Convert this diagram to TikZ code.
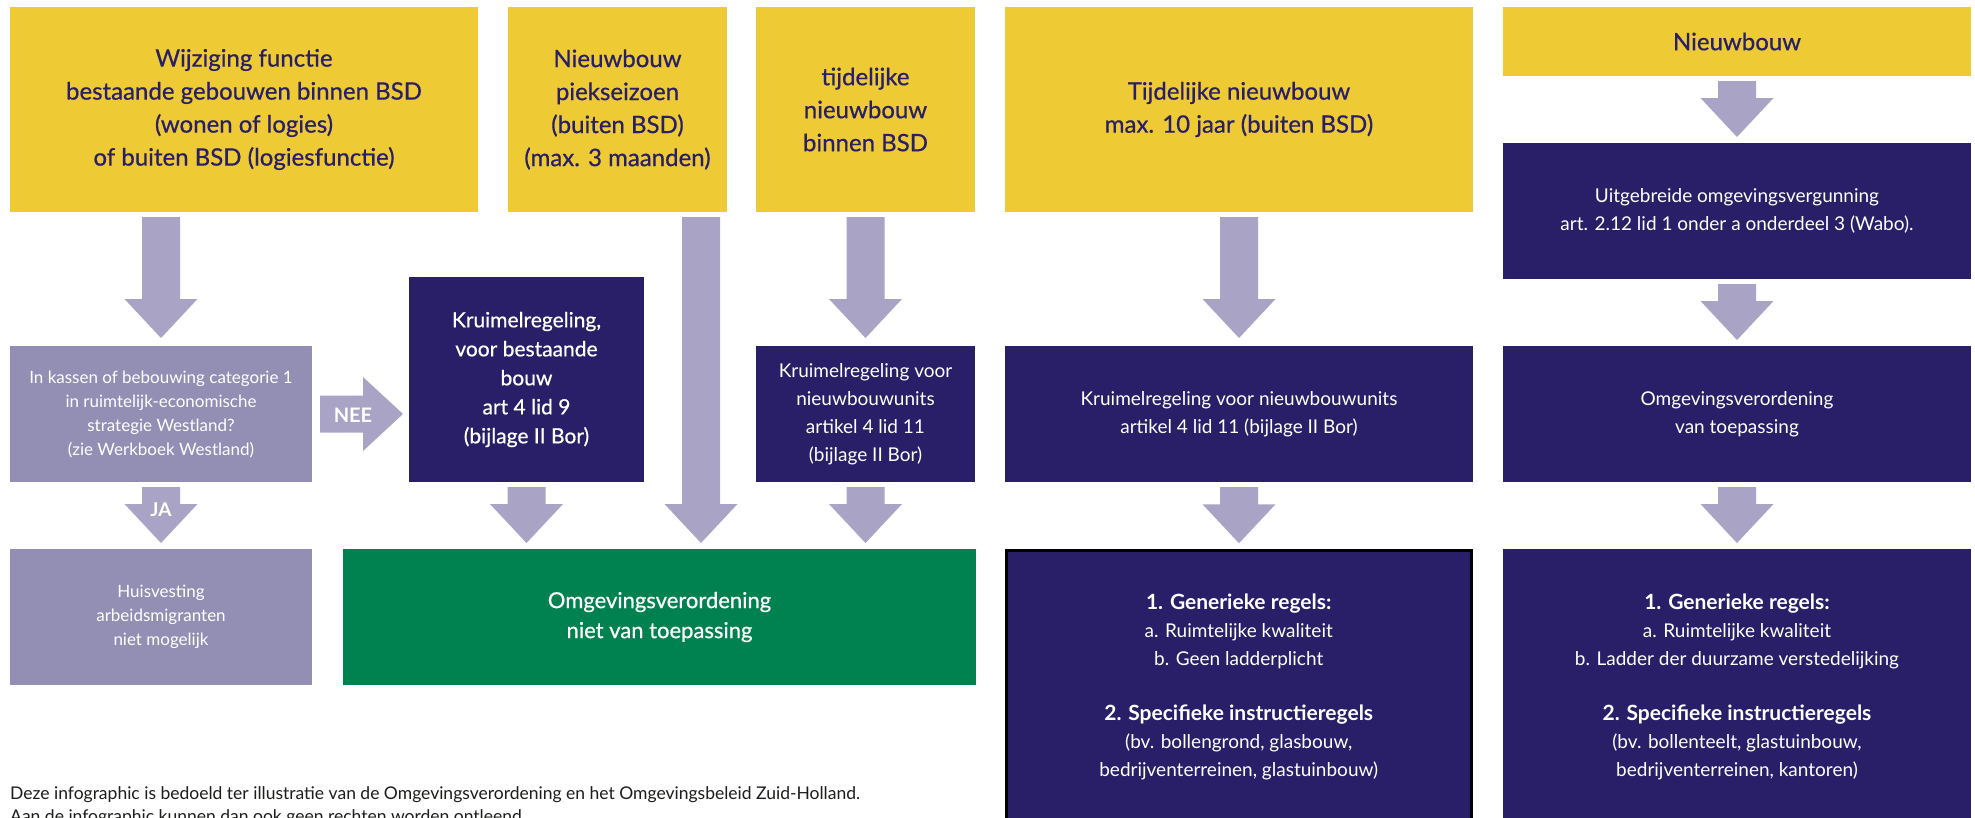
\documentclass[tikz,border=0pt]{standalone}
\usepackage{fontspec}
\setmainfont{Lato}
\newfontfamily\medfont{Lato}[FakeBold=0.6]
\usetikzlibrary{calc}

\definecolor{zhyellow}{HTML}{EECA34}
\definecolor{zhnavy}{HTML}{291F69}
\definecolor{zharrow}{HTML}{A9A4C5}
\definecolor{zhmauve}{HTML}{938EB4}
\definecolor{zhgreen}{HTML}{008250}
\definecolor{zhtext}{HTML}{1D1D1B}

\tikzset{
  box/.style={rectangle, inner sep=0pt, outer sep=0pt, align=center, anchor=north west},
  ybox/.style={box, fill=zhyellow, text=zhnavy, font=\medfont\fontsize{24}{33}\selectfont},
  nbox/.style={box, fill=zhnavy, text=white, font=\fontsize{19}{28}\selectfont},
  nhead/.style={box, fill=zhnavy, text=white, font=\medfont\fontsize{21}{29}\selectfont},
  mbox/.style={box, fill=zhmauve, text=white, font=\fontsize{17}{24}\selectfont},
  gbox/.style={box, fill=zhgreen, text=white, font=\medfont\fontsize{22}{30}\selectfont},
  arrowlabel/.style={text=white, font=\bfseries\fontsize{19}{22}\selectfont, inner sep=0pt},
}

% block arrow pointing down: #1 = top of shaft, #2 = tip
\newcommand\blockdown[2]{%
  \fill[zharrow] let \p1=(#1), \p2=(#2) in
    (\x1-19pt,\y1) -- (\x1+19pt,\y1) -- (\x1+19pt,\y2+39pt) -- (\x1+36.5pt,\y2+39pt)
    -- (\x1,\y2) -- (\x1-36.5pt,\y2+39pt) -- (\x1-19pt,\y2+39pt) -- cycle;}
% block arrow pointing right: #1 = start of shaft, #2 = tip
\newcommand\blockright[2]{%
  \fill[zharrow] let \p1=(#1), \p2=(#2) in
    (\x1,\y1+18.5pt) -- (\x2-40pt,\y1+18.5pt) -- (\x2-40pt,\y1+37pt) -- (\x2,\y1)
    -- (\x2-40pt,\y1-37pt) -- (\x2-40pt,\y1-18.5pt) -- (\x1,\y1-18.5pt) -- cycle;}

\begin{document}
\begin{tikzpicture}[x=1pt, y=-1pt]
\useasboundingbox (0,0) rectangle (1975,817);
\clip (0,0) rectangle (1975,817);
\fill[white] (0,0) rectangle (1975,817);

% top row of starting situations
\node[ybox, minimum width=468pt, minimum height=205pt] (b1) at (10,7)
  {Wijziging functie\\bestaande gebouwen binnen BSD\\(wonen of logies)\\of buiten BSD (logiesfunctie)};
\node[ybox, minimum width=219pt, minimum height=205pt] (b2) at (508,7)
  {Nieuwbouw\\piekseizoen\\(buiten BSD)\\(max. 3 maanden)};
\node[ybox, minimum width=219pt, minimum height=205pt] (b3) at (756,7)
  {tijdelijke\\nieuwbouw\\binnen BSD};
\node[ybox, minimum width=468pt, minimum height=205pt] (b4) at (1005,7)
  {Tijdelijke nieuwbouw\\max. 10 jaar (buiten BSD)};
\node[ybox, minimum width=468pt, minimum height=69pt] (b5) at (1503,7)
  {Nieuwbouw};

% right column
\node[nbox, minimum width=468pt, minimum height=136pt] (b6) at (1503,143)
  {Uitgebreide omgevingsvergunning\\art. 2.12 lid 1 onder a onderdeel 3 (Wabo).};
\node[nbox, minimum width=468pt, minimum height=136pt] (b7) at (1503,346)
  {Omgevingsverordening\\van toepassing};
\node[nbox, minimum width=468pt, minimum height=276pt] (b8) at (1503,549)
  {{\bfseries\fontsize{21}{28}\selectfont 1. Generieke regels:}\\
   a. Ruimtelijke kwaliteit\\
   b. Ladder der duurzame verstedelijking\\[27pt]
   {\bfseries\fontsize{21}{28}\selectfont 2. Specifieke instructieregels}\\
   (bv. bollenteelt, glastuinbouw,\\
   bedrijventerreinen, kantoren)};

% fourth column
\node[nbox, minimum width=468pt, minimum height=136pt] (b9) at (1005,346)
  {Kruimelregeling voor nieuwbouwunits\\artikel 4 lid 11 (bijlage II Bor)};
\node[nbox, minimum width=465pt, minimum height=273pt, draw=black, line width=2.5pt] (b10) at (1006.25,550.25)
  {{\bfseries\fontsize{21}{28}\selectfont 1. Generieke regels:}\\
   a. Ruimtelijke kwaliteit\\
   b. Geen ladderplicht\\[27pt]
   {\bfseries\fontsize{21}{28}\selectfont 2. Specifieke instructieregels}\\
   (bv. bollengrond, glasbouw,\\
   bedrijventerreinen, glastuinbouw)};

% left part
\node[mbox, minimum width=302pt, minimum height=136pt] (b11) at (10,346)
  {In kassen of bebouwing categorie 1\\in ruimtelijk-economische\\strategie Westland?\\(zie Werkboek Westland)};
\node[nhead, minimum width=235pt, minimum height=205pt] (b12) at (409,277)
  {Kruimelregeling,\\voor bestaande\\bouw\\art 4 lid 9\\(bijlage II Bor)};
\node[mbox, minimum width=302pt, minimum height=136pt] (b13) at (10,549)
  {Huisvesting\\arbeidsmigranten\\niet mogelijk};
\node[gbox, minimum width=633pt, minimum height=136pt] (b14) at (343,549)
  {Omgevingsverordening\\niet van toepassing};
\node[nbox, minimum width=219pt, minimum height=136pt] (b15) at (756,346)
  {Kruimelregeling voor\\nieuwbouwunits\\artikel 4 lid 11\\(bijlage II Bor)};

% connectors
\blockdown{$(b1.south -| b11.north)+(0,5)$}{$(b11.north)+(0,-8)$}
\blockdown{$(b11.south)+(0,5)$}{$(b13.north)+(0,-6)$}
\node[arrowlabel] (ja) at ($(b11.south)+(0,28)$) {JA};
\blockright{$(b11.east)+(8,0)$}{$(b12.west |- b11.east)+(-6,0)$}
\node[arrowlabel, font=\bfseries\fontsize{20}{22}\selectfont] (nee) at ($(b11.east)+(41,1.5)$) {NEE};
\blockdown{$(b12.south)+(0,5)$}{$(b12.south |- b14.north)+(0,-6)$}
\coordinate (longtop) at ($(b2.south east)+(-26,5)$);
\coordinate (longtip) at ($(longtop |- b14.north)+(0,-6)$);
\blockdown{longtop}{longtip}
\blockdown{$(b3.south)+(0,5)$}{$(b15.north)+(0,-8)$}
\blockdown{$(b15.south)+(0,5)$}{$(b15.south |- b14.north)+(0,-6)$}
\blockdown{$(b4.south)+(0,5)$}{$(b9.north)+(0,-8)$}
\blockdown{$(b9.south)+(0,5)$}{$(b9.south |- b10.north)+(0,-7)$}
\blockdown{$(b5.south)+(0,5)$}{$(b6.north)+(0,-6)$}
\blockdown{$(b6.south)+(0,5)$}{$(b7.north)+(0,-6)$}
\blockdown{$(b7.south)+(0,5)$}{$(b8.north)+(0,-6)$}

% disclaimer (second line runs past the lower edge)
\node[anchor=base west, inner sep=0pt, text=zhtext,
      font=\fontsize{17.5}{22}\selectfont] (note1) at (10,799)
  {Deze infographic is bedoeld ter illustratie van de Omgevingsverordening en het Omgevingsbeleid Zuid-Holland.};
\node[anchor=base west, inner sep=0pt, text=zhtext,
      font=\fontsize{17.5}{22}\selectfont] (note2) at (10,822)
  {Aan de infographic kunnen dan ook geen rechten worden ontleend.};
\end{tikzpicture}
\end{document}
